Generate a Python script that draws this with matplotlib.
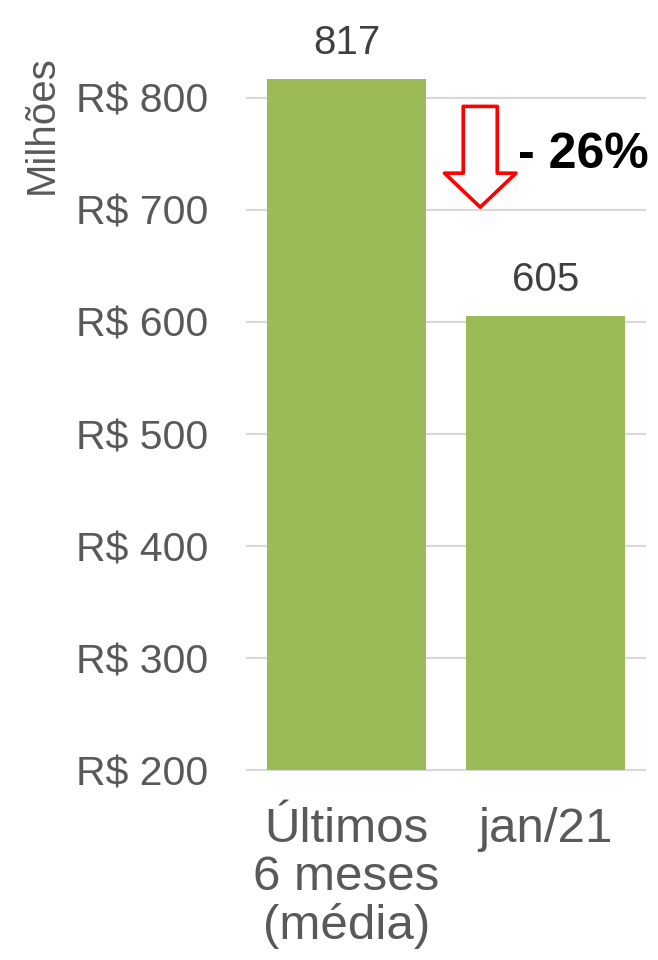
import matplotlib
matplotlib.use("Agg")
import matplotlib.pyplot as plt
import numpy as np

categories = ["Últimos\n6 meses\n(média)", "jan/21"]
values = [817, 605]
yticks = [200, 300, 400, 500, 600, 700, 800]
ytick_labels = ["R$ 200", "R$ 300", "R$ 400", "R$ 500", "R$ 600", "R$ 700", "R$ 800"]
ylabel = "Milhões"

plt.rcParams['font.family'] = ['Liberation Sans', 'DejaVu Sans']

W, H = 658, 960
fig = plt.figure(figsize=(W / 100, H / 100), dpi=100)
ymin, ymax = 200, 850
left_px, right_px, bottom_px = 247, 645, 770
px_per_unit = 1.12
top_px = bottom_px - (ymax - ymin) * px_per_unit
ax = fig.add_axes([left_px / W, (H - bottom_px) / H, (right_px - left_px) / W, (bottom_px - top_px) / H])

x = np.arange(len(categories))
ax.bar(x, np.array(values) - ymin, bottom=ymin, width=0.8, color="#9BBB59", zorder=3)
ax.set_xlim(-0.5, 1.5)
ax.set_ylim(ymin, ymax)

for xi, v in zip(x, values):
    ax.annotate(f"{v}", (xi, v), xytext=(0, 12.5), textcoords="offset points",
                ha="center", va="bottom", fontsize=29, color="#404040", clip_on=False)

ax.set_yticks(yticks)
ax.set_yticklabels(ytick_labels, fontsize=29.5, color="#595959")
ax.set_xticks(x)
ax.set_xticklabels(categories, fontsize=35.5, color="#595959", linespacing=1.08, va="top")
ax.tick_params(axis="both", length=0)
ax.tick_params(axis="y", pad=28)
ax.tick_params(axis="x", pad=27)
ax.yaxis.grid(True, color="#D9D9D9", linewidth=1.6, zorder=0)
for gl in ax.get_ygridlines():
    gl.set_clip_on(False)
ax.set_axisbelow(True)
for s in ax.spines.values():
    s.set_visible(False)

fig.text(42 / W, 1 - 125 / H, ylabel, rotation=90, ha="center", va="center",
         fontsize=29, color="#595959")

# change arrow
pct = (values[1] / values[0] - 1) * 100
ax.annotate("", xy=(0.672, 702.5), xytext=(0.672, 792.5),
            arrowprops=dict(arrowstyle="simple,head_length=1.0,head_width=2.1,tail_width=1.0",
                            mutation_scale=24.5, facecolor="white", edgecolor="#FF0000",
                            linewidth=2.6, shrinkA=0, shrinkB=0), annotation_clip=False)
ax.text(0.86, 749, f"- {abs(pct):.0f}%", ha="left", va="center", fontsize=36,
        fontweight="bold", color="black")

fig.savefig("out.png", dpi=100)
